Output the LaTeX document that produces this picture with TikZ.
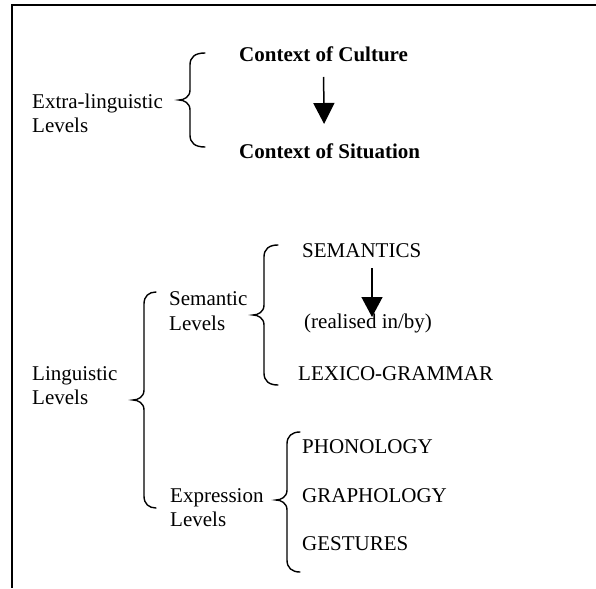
\documentclass[tikz,border=0pt]{standalone}
\usepackage{fontspec}
\setmainfont{Liberation Serif}
\usetikzlibrary{arrows.meta}
\newcommand{\mybrace}[6]{%
  \draw[bracestyle] (#1,#4) .. controls (#2+5,#4) and (#2,#4+4) .. (#2,#4+12)
    -- (#2,#5-10) .. controls (#2,#5-3) and (#3+5,#5) .. (#3,#5)
    .. controls (#3+5,#5) and (#2,#5+3) .. (#2,#5+10)
    -- (#2,#6-12) .. controls (#2,#6-4) and (#2+5,#6) .. (#1,#6);}
\tikzset{
  lbl/.style={anchor=base west, inner sep=0pt, font=\fontsize{21}{24}\selectfont},
  blbl/.style={lbl, font=\fontsize{21}{24}\selectfont\bfseries},
  bracestyle/.style={line width=1.4pt, line cap=round},
  arr/.style={line width=1.5pt, -{Triangle[width=21pt,length=21pt]}},
  frametop/.style={line width=1.6pt},
  frameleft/.style={line width=2.6pt}
}
\begin{document}
\begin{tikzpicture}[x=1pt,y=-1pt]
\useasboundingbox (0,0) rectangle (596,588);
\draw[frametop] (596,5) -- (11,5);
\draw[frameleft] (12,4.2) -- (12,588);

% Extra-linguistic
\node[blbl] (cult) at (239,62) {Context of Culture};
\node[blbl] (sit) at (239,158) {Context of Situation};
\node[lbl] (extra1) at (32,109) {Extra-linguistic};
\node[lbl] (extra2) at (32,133) {Levels};
\mybrace{205}{190}{179}{53}{100}{147}
\draw[arr] ([yshift=-15pt]cult.base) -- ([xshift=-5.5pt,yshift=34pt]sit.base);

% Semantic levels
\node[lbl] (sem) at (302,257) {SEMANTICS};
\node[lbl] (real) at (304,328) {(realised in/by)};
\node[lbl] (lex) at (298,380) {LEXICO-GRAMMAR};
\node[lbl] (seml1) at (169,305) {Semantic};
\node[lbl] (seml2) at (169,330) {Levels};
\mybrace{278}{264}{253}{245}{315}{385}
\draw[arr, -{Triangle[width=21pt,length=20pt]}] ([xshift=70pt,yshift=-11pt]sem.base west) -- ([xshift=68pt,yshift=11pt]real.base west);

% Linguistic
\node[lbl] (ling1) at (32,380) {Linguistic};
\node[lbl] (ling2) at (32,404) {Levels};
\mybrace{156}{144}{133}{292}{400}{508}

% Expression levels
\node[lbl] (phon) at (302,453) {PHONOLOGY};
\node[lbl] (graph) at (302,502) {GRAPHOLOGY};
\node[lbl] (gest) at (302,550) {GESTURES};
\node[lbl] (expr1) at (170,502) {Expression};
\node[lbl] (expr2) at (170,526) {Levels};
\mybrace{300}{287}{276}{432}{500}{572}
\end{tikzpicture}
\end{document}
